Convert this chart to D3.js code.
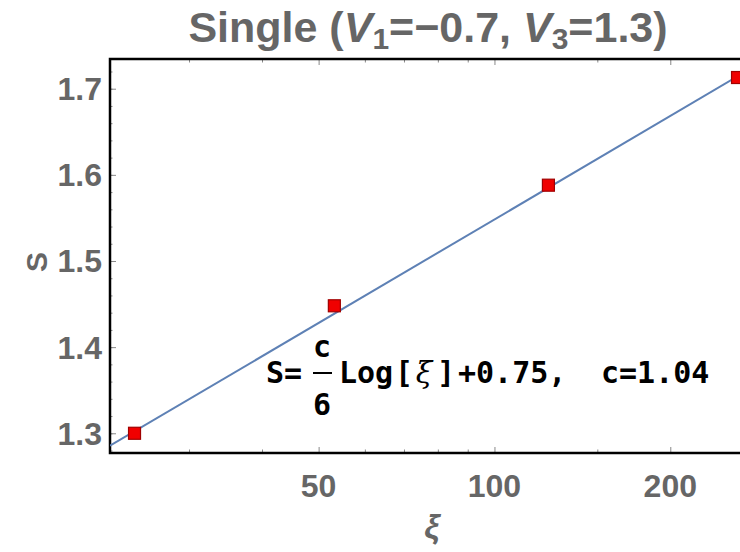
<!DOCTYPE html>
<html>
<head>
<meta charset="utf-8">
<script src="https://cdn.jsdelivr.net/npm/d3@7"></script>
<style>
	body { margin: 0; background: #fff; }
	.sans { font-family: "Liberation Sans", Arial, sans-serif; }
	.mono { font-family: "DejaVu Sans Mono", monospace; font-weight: bold; font-size: 30px; fill: #000; }
	.ticklbl { font-size: 32px; font-weight: bold; fill: #666; }
</style>
</head>
<body>
<div id="chart"></div>
<script>

// data
var xi = [24.2, 53.2, 123.7, 260.7];
var entropy = [1.300, 1.448, 1.588, 1.713];
var fitC = 1.04;
var fitB = 0.75;

var xMajor = [50, 100, 200];
var xMinor = [30, 40, 60, 70, 80, 90, 150];
var yMajor = [1.3, 1.4, 1.5, 1.6, 1.7];
var yMinor = d3.range(1.28, 1.74, 0.02);

var width = 740, height = 552;
var pLeft = 110, pTop = 59, pBottom = 453, pRight = 752;

var svg = d3.select("#chart").append("svg")
	.attr("width", width)
	.attr("height", height);

var x = d3.scaleLog().domain([21.97, 276]).range([pLeft, pRight]);
var y = d3.scaleLinear().domain([1.2771, 1.7345]).range([pBottom, pTop]);

svg.append("defs").append("clipPath").attr("id", "clip")
	.append("rect")
	.attr("x", pLeft).attr("y", pTop)
	.attr("width", pRight - pLeft).attr("height", pBottom - pTop);

// ticks, all pointing into the frame
function tickAxis(axis, vals, size, tx, ty) {
	var g = svg.append("g")
		.attr("transform", "translate(" + tx + "," + ty + ")")
		.call(axis.tickValues(vals).tickSize(size).tickFormat(""));
	g.select(".domain").remove();
	g.selectAll(".tick line").attr("stroke", "#888").attr("stroke-width", 1);
	return g;
}

tickAxis(d3.axisTop(x), xMajor, 6, 0, pBottom);
tickAxis(d3.axisTop(x), xMinor, 3.5, 0, pBottom);
tickAxis(d3.axisBottom(x), xMajor, 6, 0, pTop);
tickAxis(d3.axisBottom(x), xMinor, 3.5, 0, pTop);
tickAxis(d3.axisRight(y), yMajor, 6, pLeft, 0);
tickAxis(d3.axisRight(y), yMinor, 2.5, pLeft, 0);

// frame
svg.append("path")
	.attr("d", "M" + (pRight + 5) + "," + pTop + "H" + pLeft + "V" + pBottom + "H" + (pRight + 5))
	.attr("fill", "none")
	.attr("stroke", "#000")
	.attr("stroke-width", 2.5);

// tick labels
svg.selectAll("text.ylbl")
	.data(yMajor)
	.enter().append("text")
	.attr("class", "sans ticklbl")
	.attr("x", pLeft - 8)
	.attr("y", function(d) { return y(d) + 11.5; })
	.attr("text-anchor", "end")
	.text(function(d) { return d3.format(".1f")(d); });

svg.selectAll("text.xlbl")
	.data(xMajor)
	.enter().append("text")
	.attr("class", "sans ticklbl")
	.attr("x", function(d) { return x(d); })
	.attr("y", pBottom + 44)
	.attr("text-anchor", "middle")
	.text(function(d) { return d; });

// fit line
var fitLine = d3.line()
	.x(function(d) { return x(d); })
	.y(function(d) { return y(fitC / 6 * Math.log(d) + fitB); });

var plot = svg.append("g").attr("clip-path", "url(#clip)");

plot.append("path")
	.datum(x.domain())
	.attr("d", fitLine)
	.attr("fill", "none")
	.attr("stroke", "#5e81b5")
	.attr("stroke-width", 2);

plot.selectAll("rect.pt")
	.data(xi)
	.enter().append("rect")
	.attr("x", function(d) { return x(d) - 6; })
	.attr("y", function(d, i) { return y(entropy[i]) - 6; })
	.attr("width", 12)
	.attr("height", 12)
	.attr("fill", "#f00000")
	.attr("stroke", "#a00000")
	.attr("stroke-width", 1.2);

// title
var title = svg.append("text")
	.attr("class", "sans")
	.attr("x", 428)
	.attr("y", 42)
	.attr("text-anchor", "middle")
	.attr("font-size", 43)
	.attr("font-weight", "bold")
	.attr("fill", "#666");
title.append("tspan").text("Single (");
title.append("tspan").attr("font-style", "italic").text("V");
title.append("tspan").attr("font-size", 30).attr("dy", 7).text("1");
title.append("tspan").attr("dy", -7).text("=\u22120.7, ");
title.append("tspan").attr("font-style", "italic").text("V");
title.append("tspan").attr("font-size", 30).attr("dy", 7).text("3");
title.append("tspan").attr("dy", -7).text("=1.3)");

// axis labels
svg.append("text")
	.attr("class", "sans")
	.attr("transform", "translate(47,262) rotate(-90)")
	.attr("text-anchor", "middle")
	.attr("font-size", 30)
	.attr("font-weight", "bold")
	.attr("fill", "#666")
	.text("S");

svg.append("text")
	.attr("class", "sans")
	.attr("x", 432)
	.attr("y", 538)
	.attr("text-anchor", "middle")
	.attr("font-size", 34)
	.attr("font-style", "italic")
	.attr("font-weight", "bold")
	.attr("fill", "#666")
	.text("\u03be");

// fit formula
var note = svg.append("g");
function noteText(px, py, s, anchor) {
	return note.append("text")
		.attr("class", "mono")
		.attr("x", px).attr("y", py)
		.attr("text-anchor", anchor || "start")
		.text(s);
}
noteText(266, 383, "S=");
noteText(322, 357, "c", "middle");
note.append("line")
	.attr("x1", 313).attr("x2", 332)
	.attr("y1", 373).attr("y2", 373)
	.attr("stroke", "#000").attr("stroke-width", 2);
noteText(322, 415, "6", "middle");
noteText(339, 383, "Log");
noteText(395, 383, "[");
noteText(424, 383, "\u03be", "middle")
	.style("font-family", "'DejaVu Serif', serif")
	.style("font-style", "italic")
	.style("font-weight", "normal");
noteText(437, 383, "]");
noteText(458, 383, "+" + fitB.toFixed(2) + ",");
noteText(601, 383, "c=" + fitC.toFixed(2));

</script>
</body>
</html>
